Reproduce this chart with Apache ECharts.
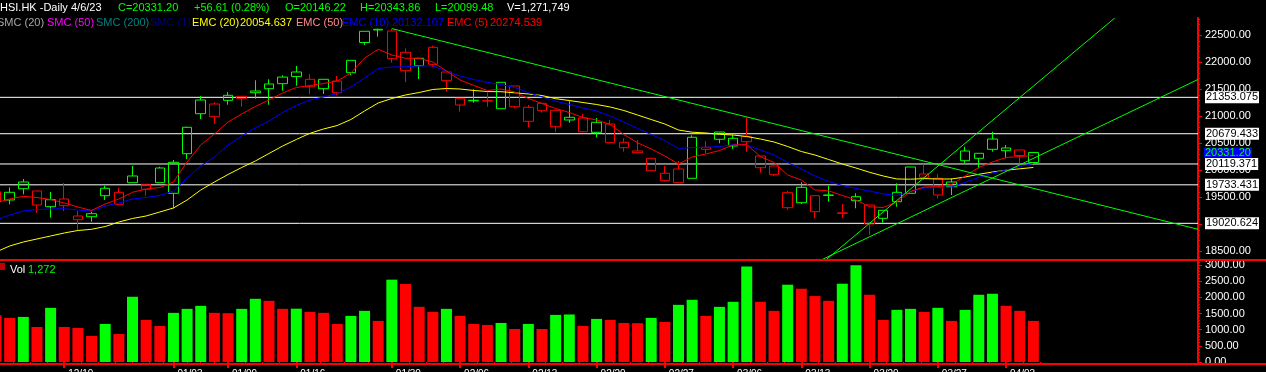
<!DOCTYPE html>
<html><head><meta charset="utf-8">
<script src="https://cdn.jsdelivr.net/npm/echarts@6/dist/echarts.min.js"></script>
<style>html,body{margin:0;padding:0;background:#000;overflow:hidden}#c{width:1266px;height:372px}</style>
</head><body><div id="c"></div>
<script>
const dates = ['12/12','12/13','12/14','12/15','12/16','12/19','12/20','12/21','12/22','12/23','12/28','12/29','12/30','01/03','01/04','01/05','01/06','01/09','01/10','01/11','01/12','01/13','01/16','01/17','01/18','01/19','01/20','01/26','01/27','01/30','01/31','02/01','02/02','02/03','02/06','02/07','02/08','02/09','02/10','02/13','02/14','02/15','02/16','02/17','02/20','02/21','02/22','02/23','02/24','02/27','02/28','03/01','03/02','03/03','03/06','03/07','03/08','03/09','03/10','03/13','03/14','03/15','03/16','03/17','03/20','03/21','03/22','03/23','03/24','03/27','03/28','03/29','03/30','03/31','04/03','04/04','04/06'];
const open = [19606,19452.5,19785.7,19619.1,19328.5,19471.0,19156.3,19198.9,19532.0,19372.9,19772.8,19650.5,20044.9,19576.5,20309.6,21303.7,21229.7,21298.2,21372.2,21470.3,21599.9,21605.5,21822.0,21686.9,21512.9,21438.8,21809.1,22368.1,22600,22581,22186.7,21938.7,22279.3,21822,21335.2,21290,21290,21142.7,21562.9,20909.4,21242.6,21113,20933.5,20970.5,20705.8,20859.4,20520.6,20359.6,20224.4,19809.9,20026.4,19854.2,20391,20711.3,20452.1,20624.3,20267.1,20081.9,19587.6,19402.5,19532,19538,19214,19439.5,19359.9,19113.7,19421,19576.5,19872.7,19854.2,19698.7,20359.6,20224.4,20581.7,20365.1,20378.1,20146.22];
const close = [19421,19595,19661.7,19359.9,19458.1,19347.0,19087.8,19143.4,19669.0,19595,19896.8,19743.1,19772.8,20150.4,20798.3,21050.2,20994.6,21390.7,21335.2,21438.8,21512.9,21728,21740,21549.9,21686.9,21655.4,22038.6,22575.5,22612,22068.2,21846.1,22075.6,21964.6,21661,21211.1,21298.2,21285,21631.4,21179.6,21168.6,21105.6,20809.4,20983.5,20716.9,20891,20513.2,20420.6,20328.1,19994.9,19946.9,19772.8,20613.3,20428.2,20576.2,20594.7,20531.7,20050.4,19920.9,19310,19687.6,19235.9,19545,19206,19513.6,19008.2,19261.8,19595,20063.4,19933.8,19545,19785.7,20180,20317,20391,20415.1,20274.59,20331.2];
const high = [19680,19687.6,19841.3,19619.1,19600.6,19767.2,19248.9,19236,19717.2,19680.2,20081.9,19743.1,20068.9,20193,20810,21377.8,21261.1,21451.8,21372.2,21668.4,21686.9,21761,21933.1,21785,21686.9,21748,22038.6,22575.5,22625,22618.1,22260.8,22075.6,22308.9,21822,21335.2,21501.7,21446.3,21631.4,21562.9,21211.1,21242.6,21113,21290.8,21044.5,20970.5,20933.5,20594.7,20563.2,20224.4,20081.9,20174.5,20650.3,20544.7,20711.3,20655.8,20983.5,20267.1,20081.9,19619.1,19780.2,19532,19717.2,19378.5,19576.5,19359.9,19261.8,19761.6,20063.4,20113.4,19933.8,19854.2,20439.1,20317,20716.9,20470.7,20378.1,20343.86];
const low = [19380,19372.9,19558.0,19217.4,19124.8,19248.9,18897.1,19050.8,19452.5,19372.9,19772.8,19532,19772.8,19298.9,20211.5,20952.0,20859.4,21216.7,21179.6,21327.8,21216.7,21475.8,21568.4,21414.8,21414.8,21396.3,21761,22321.9,22475.5,21994.2,21631.4,21692.5,21920.1,21457.3,21087.1,21253.7,21179.6,21142.7,21150,20798.3,21068.6,20716.9,20883.5,20705.8,20613.3,20502,20346.6,20328.1,19994.9,19791.3,19772.8,19854.2,20317,20502,20396.6,20346.6,19957.9,19896.8,19267.4,19378.5,19113.7,19421,19113.6,19298.9,18804.6,19032.2,19328.5,19576.5,19822.8,19483.9,19545,20131.8,20039.3,20346.6,20224.4,20131.8,20099.48];
const volume = [1447,1364,1395,1084,1675,1084,1053,804,1177,866,2018,1302,1115,1520,1644,1737,1520,1510,1644,1955,1893,1644,1650,1551,1520,1177,1426,1582,1271,2547,2412,1706,1551,1644,1426,1177,1146,1208,1021,1177,1021,1457,1470,1115,1333,1302,1208,1200,1364,1239,1768,1924,1426,1706,1862,2951,1862,1582,2391,2267,2039,1893,2422,2990,2080,1302,1613,1644,1551,1675,1271,1613,2080,2111,1737,1582,1272];
const ema5 = [19397.0,19471.0,19521.0,19498.8,19461.8,19397.0,19322.9,19258.1,19378.5,19471.0,19595.0,19656.1,19683.9,19785.7,20156.0,20470.7,20674.3,20896.4,21044.5,21183.4,21303.7,21433.3,21535.1,21572.1,21609.1,21655.4,21803.5,22081.2,22242.3,22136.7,22075.6,22075.6,22007.2,21840.5,21673.9,21572.1,21479.6,21507.3,21451.8,21331.5,21238.9,21146.3,21072.3,20979.7,20933.5,20850.2,20665.0,20513.2,20396.6,20267.0,20118.9,20248.5,20304.1,20368.8,20470.7,20479.9,20254.1,20146.7,19915.3,19822.7,19637.6,19622.8,19535.8,19452.5,19326.6,19313.7,19415.5,19609.9,19693.2,19698.7,19739.4,19896.8,20054.1,20156.0,20239.3,20258.0,20274.539];
const ema10 = [19082.3,19174.8,19248.9,19276.6,19285.9,19291.4,19267.4,19248.9,19341.4,19397.0,19471.0,19498.8,19535.8,19619.1,19859.8,20081.9,20248.5,20470.7,20637.3,20785.4,20914.9,21072.3,21201.9,21303.7,21359.2,21424.0,21544.4,21711.0,21886.8,21914.6,21918.3,21933.1,21938.7,21831.3,21748.0,21683.2,21627.7,21590.6,21535.1,21442.5,21359.2,21285.2,21220.4,21155.6,21100.1,21007.5,20896.4,20776.1,20665.0,20554.0,20405.9,20424.4,20428.1,20442.9,20476.2,20470.7,20378.1,20285.5,20146.7,20026.4,19896.8,19795.0,19720.9,19665.4,19619.1,19563.6,19535.8,19609.9,19674.6,19683.9,19693.2,19780.2,19869.0,19952.3,20007.9,20069.0,20132.107];
const ema20 = [18489.9,18600.9,18675.0,18730.5,18786.1,18841.6,18887.9,18910.1,18961.9,19045.2,19110.0,19156.3,19230.4,19304.4,19452.5,19637.6,19785.7,19924.6,20054.1,20174.5,20313.3,20452.1,20572.5,20687.3,20766.9,20831.6,20942.7,21100.1,21248.2,21331.5,21396.3,21442.5,21498.1,21516.6,21507.3,21479.6,21461.1,21457.4,21437.0,21414.8,21387.0,21327.8,21294.4,21257.4,21220.4,21174.1,21109.3,21026.0,20942.7,20859.4,20748.3,20707.6,20692.8,20668.7,20655.8,20628.0,20581.7,20526.2,20442.9,20350.3,20285.5,20202.2,20118.9,20044.9,19965.3,19896.8,19841.3,19837.5,19848.7,19841.3,19841.3,19878.3,19928.3,19970.8,20004.2,20030.1,20054.637];
const levels = [21353.075,20679.433,20119.371,19733.431,19020.624];
const priceLabels = [18500,19000,19500,20000,20500,21000,21500,22000,22500];
const priceMinorTicks = [18400,18500,18600,18700,18800,18900,19000,19100,19200,19300,19400,19500,19600,19700,19800,19900,20000,20100,20200,20300,20400,20500,20600,20700,20800,20900,21000,21100,21200,21300,21400,21500,21600,21700,21800,21900,22000,22100,22200,22300,22400,22500,22600,22700,22800];
const volLabels = [0,500,1000,1500,2000,2500,3000];
const volMinorTicks = [100,200,300,400,500,600,700,800,900,1000,1100,1200,1300,1400,1500,1600,1700,1800,1900,2000,2100,2200,2300,2400,2500,2600,2700,2800,2900,3000,3100];
const weekTicks = [5,13,17,22,29,34,39,44,49,54,59,64,69,74];
const weekMinorTicks = [1.25,2.5,3.75,6.25,7.5,8.75,10,11.25,12.25,14,15,16,18.25,19.5,20.75,23.75,25.5,27.25,30.25,31.5,32.75,35.25,36.5,37.75,40.25,41.5,42.75,45.25,46.5,47.75,50.25,51.5,52.75,55.25,56.5,57.75,60.25,61.5,62.75,65.25,66.5,67.75,70.25,71.5,72.75,75.25,76.5];
const downTrend = [[29,22625],[88.06,18910]];
const steepUp = [[60.85,18354.7],[81.96,22821.7]];
const shallowUp = [[60.56,18354.7],[88.06,21683.2]];
const prevCloseBeforeFirst = 19500;
const lastVolumeFull = 1271749;
const lastDate = '4/6/23';

// layout / style
const X_MIN = 0.293, X_MAX = 88.06;
const Y_MIN = 18354.7, Y_MAX = 22821.7, VOL_MAX = 3124;
const G = '#00ff00', R = '#ff0000', FONT = 'Liberation Sans';

const candleData = open.map((o, i) => {
  const pc = i === 0 ? prevCloseBeforeFirst : close[i - 1];
  const col = close[i] >= pc ? G : R;
  return { value: [i, o, close[i], low[i], high[i]],
    itemStyle: { color: 'rgba(0,0,0,0)', color0: col, borderColor: col, borderColor0: col, borderWidth: 1 } };
});
const volData = volume.map((v, i) => ({ value: [i, v],
  itemStyle: { color: (i > 0 && v >= volume[i - 1]) ? G : R } }));

const n = close.length - 1;
const chg = close[n] - close[n - 1];
const pct = chg / close[n - 1] * 100;

const lvlSeries = levels.map(lv => ({
  type: 'line', xAxisIndex: 0, yAxisIndex: 0, z: 1, silent: true, symbol: 'none', animation: false,
  data: [[X_MIN, lv], [X_MAX, lv]],
  lineStyle: { color: '#ffffff', width: 1 },
  endLabel: { show: true, formatter: lv.toFixed(3), color: '#000', backgroundColor: '#fff',
    fontFamily: FONT, fontSize: 11, lineHeight: 12, padding: [0, 1, 0, 1], distance: 7 }
}));

const txt = (t, x, y, fill, align) => ({ type: 'text', x, y, z: 100, silent: true,
  style: { text: t, fill, font: '11px "Liberation Sans"', verticalAlign: 'middle', align: align || 'left' } });

const row1 = [
  txt('HSI.HK -Daily', 0, 7.5, '#fff'),
  txt(lastDate, 71, 7.5, '#fff'),
  txt('C=' + close[n].toFixed(2), 118, 7.5, G),
  txt((chg >= 0 ? '+' : '') + chg.toFixed(2) + ' (' + pct.toFixed(2) + '%)', 194, 7.5, G),
  txt('O=' + open[n].toFixed(2), 285, 7.5, G),
  txt('H=' + high[n].toFixed(2), 360, 7.5, G),
  txt('L=' + low[n].toFixed(2), 435, 7.5, G),
  txt('V=' + lastVolumeFull.toLocaleString('en-US'), 507, 7.5, '#fff')
];
const row2 = [
  txt('SMC (20)', -3, 22.5, '#a8a8a8'),
  txt('SMC (50)', 47, 22.5, '#ff00ff'),
  txt('SMC (200)', 96, 22.5, '#008080'),
  txt('SMC (1)', 150, 22.5, '#000080'),
  txt('EMC (20)', 192, 22.5, '#ffff00'),
  txt(ema20[n].toFixed(3), 240, 22.5, '#ffff00'),
  txt('EMC (50)', 296, 22.5, '#ff8c8c'),
  txt('EMC (10)', 342, 22.5, '#0000ff'),
  txt(ema10[n].toFixed(3), 392, 22.5, '#0000ff'),
  txt('EMC (5)', 447, 22.5, '#ff0000'),
  txt(ema5[n].toFixed(3), 490, 22.5, '#ff0000')
];

const chart = echarts.init(document.getElementById('c'), null, { renderer: 'canvas' });
chart.setOption({
  backgroundColor: '#000',
  animation: false,
  grid: [
    { left: 0, right: 68, top: 18, bottom: 112.7, containLabel: false, outerBoundsMode: 'none' },
    { left: 0, right: 68, top: 261, bottom: 10, containLabel: false, outerBoundsMode: 'none' }
  ],
  xAxis: [
    { gridIndex: 0, type: 'value', min: X_MIN, max: X_MAX, show: false },
    { gridIndex: 1, type: 'value', min: X_MIN, max: X_MAX, position: 'bottom', offset: 2,
      axisLine: { show: false }, splitLine: { show: false },
      axisTick: { show: true, customValues: weekTicks, length: 6, lineStyle: { color: R, width: 2 } },
      axisLabel: { show: true, customValues: weekTicks, formatter: v => dates[Math.round(v)],
        color: '#fff', fontFamily: FONT, fontSize: 10, align: 'left', margin: 5, padding: [0, 0, 0, 4] } },
    { gridIndex: 1, type: 'value', min: X_MIN, max: X_MAX, position: 'bottom', offset: 2,
      axisLine: { show: false }, splitLine: { show: false }, axisLabel: { show: false },
      axisTick: { show: true, customValues: weekMinorTicks, length: 2, lineStyle: { color: R, width: 1 } } }
  ],
  yAxis: [
    { gridIndex: 0, type: 'value', position: 'right', min: Y_MIN, max: Y_MAX, splitLine: { show: false },
      axisLine: { show: true, lineStyle: { color: R, width: 2 } },
      axisTick: { show: true, customValues: priceLabels, length: 4, lineStyle: { color: R } },
      axisLabel: { customValues: priceLabels, formatter: v => v.toFixed(2), color: '#fff',
        fontFamily: FONT, fontSize: 11, margin: 7 } },
    { gridIndex: 0, type: 'value', position: 'right', min: Y_MIN, max: Y_MAX, splitLine: { show: false },
      axisLine: { show: false }, axisLabel: { show: false },
      axisTick: { show: true, customValues: priceMinorTicks, length: 2, lineStyle: { color: R } } },
    { gridIndex: 1, type: 'value', position: 'right', min: 0, max: VOL_MAX, splitLine: { show: false },
      axisLine: { show: true, lineStyle: { color: R, width: 2 } },
      axisTick: { show: true, customValues: volLabels, length: 4, lineStyle: { color: R } },
      axisLabel: { customValues: volLabels, formatter: v => v.toFixed(2), color: '#fff',
        fontFamily: FONT, fontSize: 11, margin: 7 } },
    { gridIndex: 1, type: 'value', position: 'right', min: 0, max: VOL_MAX, splitLine: { show: false },
      axisLine: { show: false }, axisLabel: { show: false },
      axisTick: { show: true, customValues: volMinorTicks, length: 2, lineStyle: { color: R } } }
  ],
  series: [
    ...lvlSeries,
    { type: 'line', xAxisIndex: 0, yAxisIndex: 0, z: 1, silent: true, symbol: 'none',
      data: [[X_MIN, close[n]], [X_MAX, close[n]]], lineStyle: { opacity: 0 },
      endLabel: { show: true, formatter: close[n].toFixed(2), color: G, backgroundColor: '#0000ff',
        fontFamily: FONT, fontSize: 11, lineHeight: 10, padding: [0, 1, 0, 1], distance: 6 } },
    { type: 'candlestick', xAxisIndex: 0, yAxisIndex: 0, z: 2, clip: false, barWidth: 10,
      data: candleData },
    { type: 'line', xAxisIndex: 0, yAxisIndex: 0, z: 3, symbol: 'none', silent: true,
      data: ema20.map((v, i) => [i, v]), lineStyle: { color: '#ffff00', width: 1 } },
    { type: 'line', xAxisIndex: 0, yAxisIndex: 0, z: 3, symbol: 'none', silent: true,
      data: ema10.map((v, i) => [i, v]), lineStyle: { color: '#0000ff', width: 1 } },
    { type: 'line', xAxisIndex: 0, yAxisIndex: 0, z: 3, symbol: 'none', silent: true,
      data: ema5.map((v, i) => [i, v]), lineStyle: { color: '#ff0000', width: 1 } },
    { type: 'line', xAxisIndex: 0, yAxisIndex: 0, z: 3, symbol: 'none', silent: true,
      data: downTrend, lineStyle: { color: G, width: 1 } },
    { type: 'line', xAxisIndex: 0, yAxisIndex: 0, z: 3, symbol: 'none', silent: true,
      data: steepUp, lineStyle: { color: G, width: 1 } },
    { type: 'line', xAxisIndex: 0, yAxisIndex: 0, z: 3, symbol: 'none', silent: true,
      data: shallowUp, lineStyle: { color: G, width: 1 } },
    { type: 'bar', xAxisIndex: 1, yAxisIndex: 2, barWidth: 11, data: volData }
  ],
  graphic: [
    ...row1, ...row2,
    { type: 'rect', shape: { x: 0, y: 259, width: 1266, height: 2 }, style: { fill: R }, silent: true, z: 50 },
    { type: 'rect', shape: { x: 0, y: 363, width: 1266, height: 2 }, style: { fill: R }, silent: true, z: 50 },
    { type: 'rect', shape: { x: 0, y: 263, width: 5, height: 7 }, style: { fill: '#c00000' }, silent: true, z: 50 },
    txt('Vol', 10, 270, '#fff'),
    txt(volume[n].toLocaleString('en-US'), 28, 270, G)
  ]
});
</script>
</body></html>
